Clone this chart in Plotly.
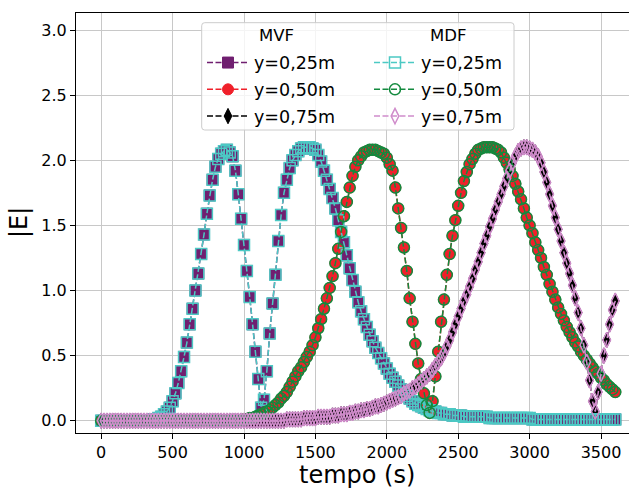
import plotly.graph_objects as go

# ---------------- data ----------------
tempo = list(range(0, 3601, 20))  # s

E_mvf_025 = [0.00] * 18 + [
    0.01, 0.01,
    0.02, 0.03, 0.05, 0.07, 0.10,
    0.15, 0.21, 0.29, 0.38, 0.49,
    0.60, 0.74, 0.86, 1.00, 1.13,
    1.28, 1.43, 1.59, 1.73, 1.85,
    1.95, 2.01, 2.05, 2.07, 2.08,
    2.06, 2.03, 1.92, 1.74, 1.55,
    1.35, 1.15, 0.95, 0.74, 0.53,
    0.32, 0.10, 0.16, 0.38, 0.67,
    0.90, 1.12, 1.38, 1.58, 1.75,
    1.85, 1.94, 2.00, 2.04, 2.07,
    2.09, 2.10, 2.10, 2.10, 2.09,
    2.08, 2.04, 1.99, 1.92, 1.85,
    1.78, 1.71, 1.63, 1.54, 1.45,
    1.37, 1.27, 1.17, 1.08, 0.99,
    0.91, 0.84, 0.78, 0.72, 0.66,
    0.61, 0.56, 0.52, 0.48, 0.44,
    0.40, 0.36, 0.33, 0.30, 0.27,
    0.24, 0.21, 0.19, 0.17, 0.15,
    0.13, 0.12, 0.11, 0.10, 0.09,
    0.08, 0.07, 0.07, 0.06, 0.06,
    0.05, 0.05, 0.05, 0.04, 0.04,
    0.04, 0.04, 0.03, 0.03, 0.03,
    0.03, 0.03, 0.03, 0.03, 0.03,
    0.03,
] + [0.02] * 15 + [0.01] * 30

E_mvf_050 = [0.00] * 50 + [
    0.01, 0.01, 0.02, 0.02, 0.03,
    0.04, 0.05, 0.06, 0.07, 0.08,
    0.10, 0.12, 0.14, 0.17, 0.19,
    0.22, 0.26, 0.30, 0.34, 0.38,
    0.41, 0.45, 0.49, 0.53, 0.58,
    0.64, 0.71, 0.78, 0.86, 0.94,
    1.02, 1.11, 1.21, 1.32, 1.45,
    1.57, 1.68, 1.79, 1.88, 1.95,
    2.00, 2.03, 2.06, 2.07, 2.08,
    2.08, 2.08, 2.07, 2.06, 2.05,
    2.02, 1.97, 1.92, 1.79, 1.63,
    1.48, 1.33, 1.15, 0.94, 0.76,
    0.59, 0.44, 0.32, 0.21, 0.12,
    0.06, 0.15, 0.34, 0.53, 0.76,
    0.93, 1.12, 1.28, 1.42, 1.54,
    1.65, 1.75, 1.84, 1.91, 1.97,
    2.01, 2.05, 2.08, 2.09, 2.10,
    2.10, 2.10, 2.10, 2.09, 2.08,
    2.06, 2.02, 1.98, 1.93, 1.88,
    1.82, 1.76, 1.70, 1.63, 1.56,
    1.50, 1.44, 1.37, 1.31, 1.25,
    1.18, 1.12, 1.05, 0.99, 0.93,
    0.87, 0.82, 0.77, 0.72, 0.68,
    0.64, 0.60, 0.57, 0.53, 0.50,
    0.47, 0.44, 0.41, 0.38, 0.36,
    0.33, 0.31, 0.28, 0.26, 0.24,
    0.22,
]

E_mvf_075 = [0.00] * 65 + [
    0.01, 0.01, 0.01, 0.01, 0.01,
    0.01, 0.02, 0.02, 0.02, 0.02,
    0.02, 0.03, 0.03, 0.03, 0.03,
    0.03, 0.04, 0.04, 0.04, 0.05,
    0.05, 0.05, 0.06, 0.06, 0.07,
    0.07, 0.08, 0.08, 0.09, 0.09,
    0.10, 0.11, 0.11, 0.12, 0.13,
    0.14, 0.15, 0.16, 0.17, 0.18,
    0.19, 0.21, 0.22, 0.23, 0.25,
    0.26, 0.28, 0.30, 0.32, 0.34,
    0.36, 0.39, 0.42, 0.45, 0.48,
    0.52, 0.57, 0.62, 0.68, 0.74,
    0.80, 0.86, 0.92, 0.97, 1.03,
    1.09, 1.16, 1.22, 1.29, 1.36,
    1.42, 1.49, 1.55, 1.62, 1.68,
    1.74, 1.80, 1.86, 1.92, 1.98,
    2.03, 2.07, 2.09, 2.10, 2.10,
    2.09, 2.08, 2.06, 2.03, 1.98,
    1.91, 1.83, 1.74, 1.65, 1.56,
    1.47, 1.38, 1.29, 1.21, 1.13,
    1.04, 0.94, 0.83, 0.71, 0.58,
    0.45, 0.31, 0.15, 0.07, 0.22,
    0.36, 0.50, 0.62, 0.74, 0.85,
    0.92,
]

# MDF results coincide with the MVF ones at the scale of the picture
E_mdf_025 = list(E_mvf_025)
E_mdf_050 = list(E_mvf_050)
E_mdf_075 = list(E_mvf_075)

for arr in (E_mvf_025, E_mvf_050, E_mvf_075):
    assert len(arr) == len(tempo), len(arr)

labels = ["y=0,25m", "y=0,50m", "y=0,75m"]
group_titles = ["MVF", "MDF"]
x_ticks = [0, 500, 1000, 1500, 2000, 2500, 3000, 3500]
y_ticks = [0.0, 0.5, 1.0, 1.5, 2.0, 2.5, 3.0]

# ---------------- styles ----------------
FONT = "DejaVu Sans"
DASH = "6px,2.5px"
MS = 11

mvf_styles = [
    dict(color="#701f70", symbol="square"),
    dict(color="#f0202a", symbol="circle"),
    dict(color="#000000", symbol="diamond-tall"),
]
mdf_styles = [
    dict(color="#4cc9c4", symbol="square-open"),
    dict(color="#138a3e", symbol="circle-open"),
    dict(color="#d08ccb", symbol="diamond-tall-open"),
]

fig = go.Figure()

for i, (vals, lab, st) in enumerate(zip([E_mvf_025, E_mvf_050, E_mvf_075], labels, mvf_styles)):
    fig.add_trace(go.Scatter(
        x=tempo, y=vals, name=lab, mode="lines+markers", legend="legend",
        legendgroup=f"mvf{i}",
        line=dict(color=st["color"], width=1.5, dash=DASH),
        marker=dict(symbol=st["symbol"], size=MS, color=st["color"],
                    line=dict(color=st["color"], width=1)),
    ))

for i, (vals, lab, st) in enumerate(zip([E_mdf_025, E_mdf_050, E_mdf_075], labels, mdf_styles)):
    fig.add_trace(go.Scatter(
        x=tempo, y=vals, name=lab, mode="lines+markers", legend="legend2",
        legendgroup=f"mdf{i}",
        line=dict(color=st["color"], width=1.5, dash=DASH),
        marker=dict(symbol=st["symbol"], size=MS, color=st["color"],
                    line=dict(color=st["color"], width=1.5)),
    ))

# plot area in px: x 76..629, y 13..433
L, R, T, B = 76, 629, 13, 433
W, H = 629, 488
pw, ph = R - L, B - T


def px2x(px):
    return (px - L) / pw


def py2y(py):
    return 1 - (py - T) / ph


# legend frame (rounded rect)
x0, x1 = px2x(201.7), px2x(514)
y0, y1 = py2y(130), py2y(22.7)
rx, ry = 3 / pw, 3 / ph
path = (f"M{x0+rx},{y0} L{x1-rx},{y0} Q{x1},{y0} {x1},{y0+ry} "
        f"L{x1},{y1-ry} Q{x1},{y1} {x1-rx},{y1} L{x0+rx},{y1} "
        f"Q{x0},{y1} {x0},{y1-ry} L{x0},{y0+ry} Q{x0},{y0} {x0+rx},{y0} Z")
fig.add_shape(type="path", path=path, xref="paper", yref="paper",
              fillcolor="rgba(255,255,255,0.8)", line=dict(color="#cccccc", width=1),
              layer="above")

leg_common = dict(
    xanchor="left", yanchor="top", bgcolor="rgba(0,0,0,0)", borderwidth=0,
    font=dict(family=FONT, size=17.5, color="#000000"),
    itemsizing="trace", itemwidth=42, traceorder="grouped", tracegroupgap=1,
)
fig.update_layout(
    legend=dict(x=px2x(202), y=py2y(44.7), **leg_common),
    legend2=dict(x=px2x(369), y=py2y(44.7), **leg_common),
)

# column titles of the legend
for txt, cx in zip(group_titles, [276, 447.5]):
    fig.add_annotation(text=txt, x=px2x(cx), y=py2y(35), xref="paper", yref="paper",
                       showarrow=False, xanchor="center", yanchor="middle",
                       font=dict(family=FONT, size=16.5, color="#000000"))

fig.add_annotation(text="tempo (s)", x=px2x(356.5), y=py2y(474.5), xref="paper", yref="paper",
                   showarrow=False, xanchor="center", yanchor="middle",
                   font=dict(family=FONT, size=24, color="#000000"))
fig.add_annotation(text="|E|", x=px2x(19), y=py2y(223), xref="paper", yref="paper",
                   showarrow=False, xanchor="center", yanchor="middle", textangle=-90,
                   font=dict(family=FONT, size=24, color="#000000"))

axis_common = dict(
    showgrid=True, gridcolor="#c8c8c8", gridwidth=1, zeroline=False,
    showline=True, linecolor="#000000", linewidth=1.1,
    ticks="outside", ticklen=5, tickwidth=1.1, tickcolor="#000000",
    tickfont=dict(family=FONT, size=16, color="#000000"),
)
fig.update_xaxes(range=[-176.5, 3696], tickvals=x_ticks, mirror=True,
                 ticklabelstandoff=0, **axis_common)
fig.update_yaxes(range=[-0.0945, 3.131], tickvals=y_ticks, tickformat=".1f", mirror=False,
                 **axis_common)

fig.update_layout(
    width=W, height=H,
    margin=dict(l=L, r=W - R, t=T, b=H - B, pad=0),
    paper_bgcolor="white", plot_bgcolor="white",
    font=dict(family=FONT, size=16, color="#000000"),
)

fig.write_html("out.html")
